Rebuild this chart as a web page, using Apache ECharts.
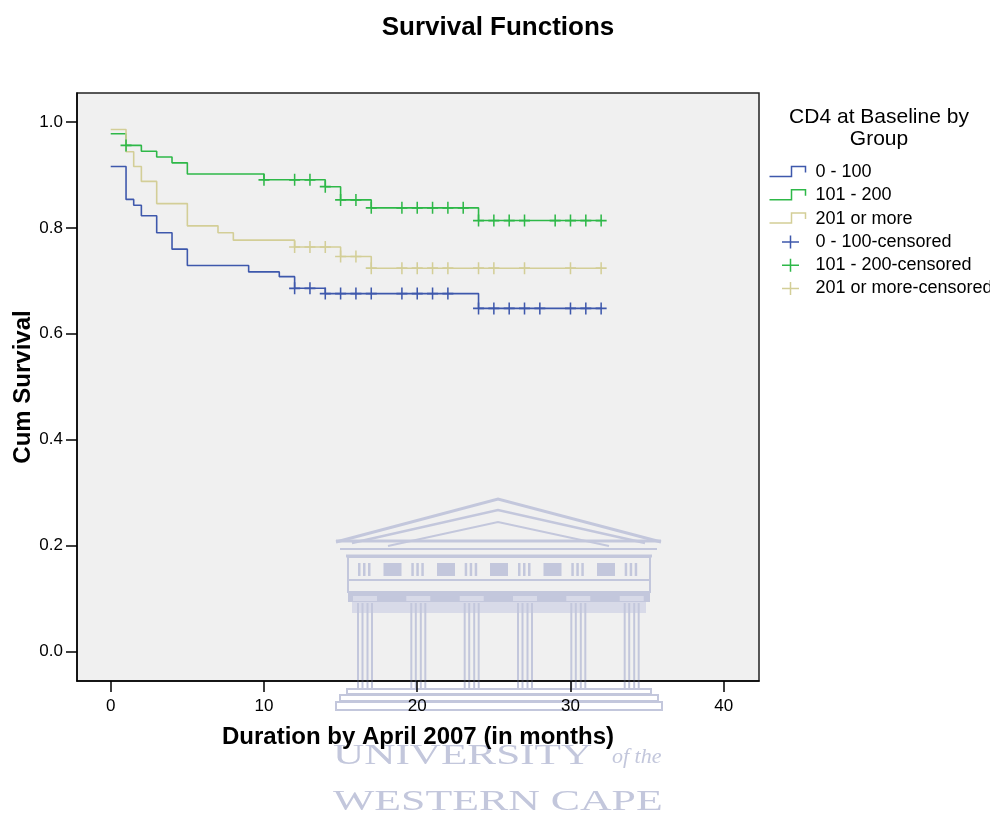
<!DOCTYPE html>
<html><head><meta charset="utf-8">
<script src="https://cdn.jsdelivr.net/npm/echarts@6/dist/echarts.min.js"></script>
<style>html,body{margin:0;padding:0;background:#fff}#c{width:990px;height:814px}</style>
</head><body><div id="c"></div>
<script>
// ---------- data ----------
const groupNames = ['0 - 100', '101 - 200', '201 or more'];
const censorNames = ['0 - 100-censored', '101 - 200-censored', '201 or more-censored'];
const colors = ['#3E58AC', '#2EB848', '#D3CE97'];

const blueTimes = [0, 1, 1.5, 2, 3, 4, 5, 9, 11, 12, 14, 24, 32];
const blueSurv  = [0.916, 0.854, 0.843, 0.823, 0.791, 0.760, 0.729, 0.717, 0.708, 0.686, 0.676, 0.648, 0.648];
const blueCensor = [12, 13, 14, 15, 16, 17, 19, 20, 21, 22, 24, 25, 26, 27, 28, 30, 31, 32];

const greenTimes = [0, 1, 2, 3, 4, 5, 10, 14, 15, 17, 24, 32];
const greenSurv  = [0.978, 0.956, 0.945, 0.934, 0.923, 0.902, 0.891, 0.878, 0.853, 0.838, 0.814, 0.814];
const greenCensor = [1, 10, 12, 13, 14, 15, 16, 17, 19, 20, 21, 22, 23, 24, 25, 26, 27, 29, 30, 31, 32];

const tanTimes = [0, 1, 1.5, 2, 3, 5, 7, 8, 12, 15, 17, 32];
const tanSurv  = [0.986, 0.944, 0.916, 0.888, 0.846, 0.804, 0.791, 0.777, 0.764, 0.746, 0.724, 0.724];
const tanCensor = [12, 13, 14, 15, 16, 17, 19, 20, 21, 22, 24, 25, 27, 30, 32];

const xTicks = [0, 10, 20, 30, 40];
const yTicks = [0, 0.2, 0.4, 0.6, 0.8, 1.0];

// ---------- build ----------
const FF = 'Arial, "Liberation Sans", Helvetica, sans-serif';
const allTimes = [blueTimes, greenTimes, tanTimes];
const allSurv = [blueSurv, greenSurv, tanSurv];
const allCensor = [blueCensor, greenCensor, tanCensor];

function survAt(times, surv, t) {
  let v = surv[0];
  for (let k = 0; k < times.length; k++) if (times[k] <= t) v = surv[k];
  return v;
}

const STEP_ICON = 'path://M0,11 L22,11 L22,1 L36,1 L36,7 M41,0 M41,13';
const PLUS_ICON = 'path://M0,0 M41,13 M21,0 L21,13 M12.5,6.5 L29.5,6.5';
const PLUS = 'path://M5,0 L5,12 M0,6 L10,6';

const series = [];
groupNames.forEach((n, i) => {
  series.push({
    type: 'line', name: n, step: 'end', showSymbol: false, symbol: 'none',
    data: allTimes[i].map((t, k) => [t, allSurv[i][k]]),
    lineStyle: { color: colors[i], width: 1.6 }, itemStyle: { color: colors[i] },
    z: 2, silent: true
  });
});
censorNames.forEach((n, i) => {
  series.push({
    type: 'scatter', name: n, symbol: PLUS, symbolSize: [11, 12],
    data: allCensor[i].map(t => [t, survAt(allTimes[i], allSurv[i], t)]),
    itemStyle: { color: 'none', borderColor: colors[i], borderWidth: 1.6, opacity: 1 },
    z: 3, silent: true
  });
});

const legendData = groupNames.map((n, i) => ({
  name: n, icon: STEP_ICON,
  itemStyle: { color: 'none', borderColor: colors[i], borderWidth: 1.5 }
})).concat(censorNames.map((n, i) => ({
  name: n, icon: PLUS_ICON,
  itemStyle: { color: 'none', borderColor: colors[i], borderWidth: 1.5 }
})));

// watermark (University of the Western Cape logo), drawn as faint graphics
const WM = '#c3c7dc';
const wm = [];
function pl(points, lw) { wm.push({ type: 'polyline', shape: { points }, style: { stroke: WM, lineWidth: lw, fill: null }, silent: true, z: 1 }); }
function ln(x1, y1, x2, y2, lw) { wm.push({ type: 'line', shape: { x1, y1, x2, y2 }, style: { stroke: WM, lineWidth: lw }, silent: true, z: 1 }); }
function rc(x, y, w, h, fill, lw) { wm.push({ type: 'rect', shape: { x, y, width: w, height: h }, style: fill ? { fill: fill } : { fill: null, stroke: WM, lineWidth: lw }, silent: true, z: 1 }); }
pl([[336, 542], [498, 499], [661, 542]], 3);
pl([[352, 543], [498, 510], [645, 543]], 2.5);
pl([[388, 546], [498, 522], [609, 546]], 2);
ln(336, 541, 661, 541, 3);
ln(340, 549, 657, 549, 2);
ln(346, 556, 652, 556, 3);
rc(348, 557, 302, 23, null, 2);
const cols = [365, 418.3, 471.7, 525, 578.3, 631.7];
[392.5, 446, 499, 552.5, 606].forEach(cx => rc(cx - 9, 563, 18, 13, WM));
cols.forEach(c => { [-6, -1, 4].forEach(o => rc(c + o - 1, 563, 2.5, 13, WM)); });
rc(348, 580, 302, 12, null, 2);
rc(348, 592, 302, 10, WM);
rc(352, 602, 294, 11, '#d8dae8');
cols.forEach(c => {
  rc(c - 12, 596, 24, 5, '#d8dae8');
  [-7, -2.5, 2.5, 7].forEach(o => ln(c + o, 603, c + o, 690, 2));
});
rc(347, 689, 304, 5, null, 2);
rc(340, 695, 318, 6, null, 2);
rc(336, 702, 326, 8, null, 2);
wm.push({ type: 'text', x: 333, y: 756, scaleX: 1.44, silent: true, z: 1,
  style: { text: 'UNIVERSITY', fill: WM, font: '30px "Liberation Serif", "DejaVu Serif", serif', textVerticalAlign: 'middle' } });
wm.push({ type: 'text', x: 612, y: 757, silent: true, z: 1,
  style: { text: 'of the', fill: WM, font: 'italic 22px "Liberation Serif", "DejaVu Serif", serif', textVerticalAlign: 'middle' } });
wm.push({ type: 'text', x: 333, y: 802, scaleX: 1.46, silent: true, z: 1,
  style: { text: 'WESTERN CAPE', fill: WM, font: '30px "Liberation Serif", "DejaVu Serif", serif', textVerticalAlign: 'middle' } });

const option = {
  animation: false,
  backgroundColor: '#ffffff',
  title: [
    { text: 'Survival Functions', left: 498, top: 15, padding: 0, textAlign: 'center',
      textStyle: { fontSize: 26, fontWeight: 'bold', fontFamily: FF, color: '#000' } },
    { text: 'CD4 at Baseline by\nGroup', left: 879, top: 106, padding: 0, textAlign: 'center',
      textStyle: { fontSize: 21, fontWeight: 'normal', lineHeight: 22, fontFamily: FF, color: '#000' } }
  ],
  legend: {
    orient: 'vertical', left: 767, top: 163, padding: 0,
    itemWidth: 41, itemHeight: 13, itemGap: 5.3, symbolKeepAspect: false,
    selectedMode: false,
    textStyle: { fontSize: 18, lineHeight: 18, color: '#000', fontFamily: FF },
    data: legendData
  },
  grid: {
    left: 77, right: 231, top: 93, bottom: 133, show: true, z: 0,
    outerBoundsMode: 'none', containLabel: false,
    backgroundColor: '#f0f0f0', borderColor: '#222', borderWidth: 1.5
  },
  graphic: { elements: wm },
  xAxis: {
    type: 'value', min: -2.2, max: 42.3, z: 3,
    axisLine: { show: true, onZero: false, lineStyle: { color: '#000', width: 1.5 } },
    axisTick: { show: true, length: 11, customValues: xTicks, lineStyle: { color: '#000', width: 1.5 } },
    axisLabel: { customValues: xTicks, margin: 17, fontSize: 17, color: '#000', fontFamily: FF },
    splitLine: { show: false },
    name: 'Duration by April 2007 (in months)', nameLocation: 'middle', nameGap: 44,
    nameTextStyle: { fontSize: 24, fontWeight: 'bold', color: '#000', fontFamily: FF }
  },
  yAxis: {
    type: 'value', min: -0.056, max: 1.055, z: 3,
    axisLine: { show: true, onZero: false, lineStyle: { color: '#000', width: 1.5 } },
    axisTick: { show: true, length: 11, customValues: yTicks, lineStyle: { color: '#000', width: 1.5 } },
    axisLabel: { customValues: yTicks, margin: 14, fontSize: 17, color: '#000', fontFamily: FF,
      formatter: v => v.toFixed(1) },
    splitLine: { show: false },
    name: 'Cum Survival', nameLocation: 'middle', nameGap: 42, nameMoveOverlap: false,
    nameTextStyle: { fontSize: 24, fontWeight: 'bold', color: '#000', fontFamily: FF }
  },
  series: series
};

const chart = echarts.init(document.getElementById('c'), null, { renderer: 'canvas' });
chart.setOption(option);
</script>
</body></html>
